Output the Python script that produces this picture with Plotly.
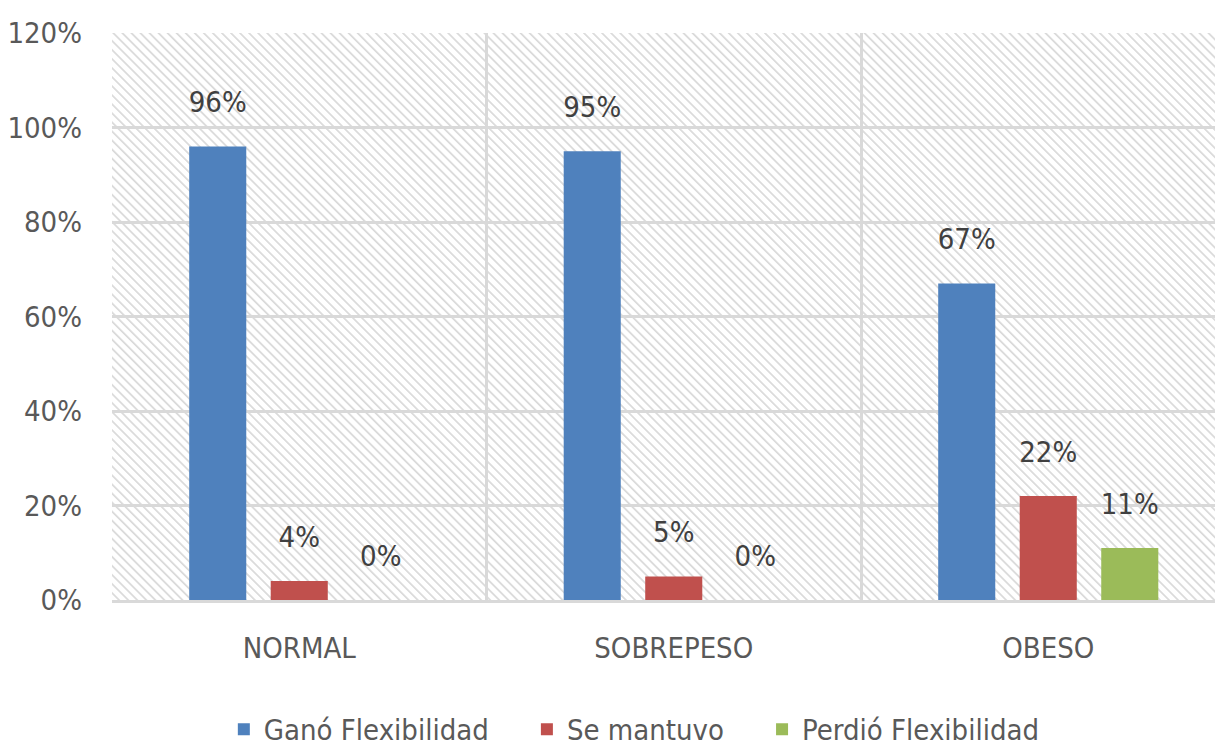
import base64
import plotly.graph_objects as go

categories = ["NORMAL", "SOBREPESO", "OBESO"]
series_names = ["Ganó Flexibilidad", "Se mantuvo", "Perdió Flexibilidad"]
gano = [0.96, 0.95, 0.67]
mantuvo = [0.04, 0.05, 0.22]
perdio = [0.00, 0.00, 0.11]
colors = ["#4F81BD", "#C0504D", "#9BBB59"]
y_ticks = [0, 0.2, 0.4, 0.6, 0.8, 1.0, 1.2]

FONT = "Liberation Sans Narrow, Arial Narrow, DejaVu Sans Condensed, sans-serif"
FS = 29

# page has an 8px body margin; figure sized to fit the 1223x747 window
W, H = 1215, 739
ML, MR, MT, MB = 104, 0, 25, 147
PW, PH = W - ML - MR, H - MT - MB

svg = f'''<svg xmlns="http://www.w3.org/2000/svg" width="{PW}" height="{PH}">
<defs><pattern id="p" patternUnits="userSpaceOnUse" width="6.4" height="6.4" patternTransform="rotate(-45)">
<rect x="0" y="0" width="1.7" height="6.4" fill="#d9d9d9"/></pattern></defs>
<rect width="{PW}" height="{PH}" fill="white"/>
<rect width="{PW}" height="{PH}" fill="url(#p)"/></svg>'''
bg_uri = "data:image/svg+xml;base64," + base64.b64encode(svg.encode()).decode()

fig = go.Figure()
all_vals = [gano, mantuvo, perdio]
for name, vals, c in zip(series_names, all_vals, colors):
    fig.add_trace(go.Bar(x=categories, y=vals, name=name + "\u00a0" * 4,
                         marker_color=c, marker_line_width=0, hoverinfo="skip"))
for name, vals, c in zip(series_names, all_vals, colors):
    fig.add_trace(go.Scatter(x=categories, y=vals, mode="markers+text",
                             text=[f"{round(v*100)}%" for v in vals],
                             textposition="top center",
                             textfont=dict(family=FONT, size=FS, color="#404040"),
                             marker=dict(size=42, opacity=0, color=c),
                             showlegend=False, hoverinfo="skip", cliponaxis=False))

fig.update_layout(
    width=W, height=H,
    margin=dict(l=ML, r=MR, t=MT, b=MB, autoexpand=False),
    paper_bgcolor="white", plot_bgcolor="rgba(0,0,0,0)",
    barmode="group", bargap=0.347, bargroupgap=0.30,
    scattermode="group", scattergap=0.347,
    font=dict(family=FONT, size=FS, color="#595959"),
    showlegend=True,
    legend=dict(orientation="h", x=0.485, xanchor="center", y=-0.228, yanchor="middle",
                font=dict(family=FONT, size=FS, color="#595959"),
                itemwidth=30, traceorder="normal"),
    images=[dict(source=bg_uri, xref="paper", yref="paper", x=0, y=1,
                 sizex=1, sizey=1, sizing="stretch", layer="below",
                 xanchor="left", yanchor="top")],
)
fig.update_xaxes(range=[-0.5, -0.5 + PW / 374.5], tickson="boundaries",
                 showgrid=True, gridcolor="#d9d9d9", gridwidth=3,
                 showline=True, linecolor="#d9d9d9", linewidth=3,
                 ticks="", ticklabelstandoff=20, fixedrange=True, automargin=False,
                 tickfont=dict(family=FONT, size=FS, color="#595959"))
fig.update_yaxes(range=[0, 1.2], tickvals=y_ticks, tickformat=".0%",
                 showgrid=True, gridcolor="#d9d9d9", gridwidth=3,
                 zeroline=False, showline=False, ticks="",
                 ticklabelstandoff=29, fixedrange=True, automargin=False,
                 tickfont=dict(family=FONT, size=FS, color="#595959"))

fig.write_html("out.html")
